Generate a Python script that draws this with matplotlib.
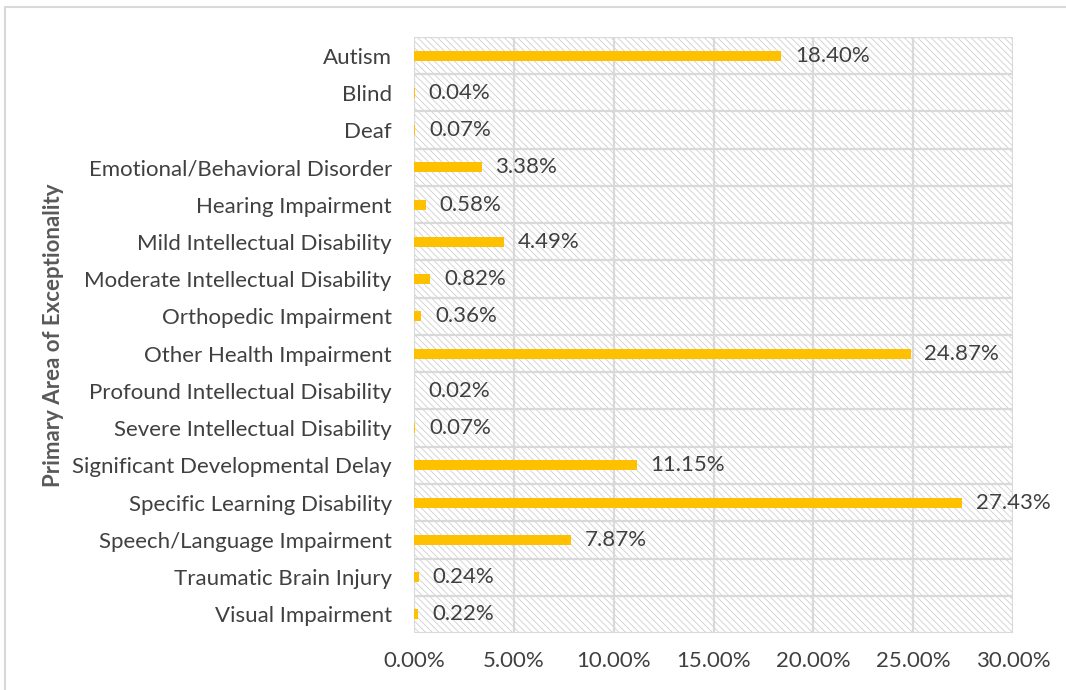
import numpy as np
import matplotlib.pyplot as plt
from matplotlib.patches import Rectangle
from matplotlib.ticker import FuncFormatter, MultipleLocator

categories = [
    'Autism', 'Blind', 'Deaf', 'Emotional/Behavioral Disorder',
    'Hearing Impairment', 'Mild Intellectual Disability',
    'Moderate Intellectual Disability', 'Orthopedic Impairment',
    'Other Health Impairment', 'Profound Intellectual Disability',
    'Severe Intellectual Disability', 'Significant Developmental Delay',
    'Specific Learning Disability', 'Speech/Language Impairment',
    'Traumatic Brain Injury', 'Visual Impairment',
]
percents = [18.40, 0.04, 0.07, 3.38, 0.58, 4.49, 0.82, 0.36,
            24.87, 0.02, 0.07, 11.15, 27.43, 7.87, 0.24, 0.22]
x_ticks = [0, 5, 10, 15, 20, 25, 30]

plt.rcParams['font.family'] = ['Lato', 'DejaVu Sans']
plt.rcParams['hatch.linewidth'] = 0.6
plt.rcParams['hatch.color'] = '#d0d0d0'

fig = plt.figure(figsize=(10.66, 6.9), dpi=100)
ax = fig.add_axes([0.3884, 0.0826, 0.5619, 0.8638])

# chart border
fig.patches.append(Rectangle((5 / 1066, -0.1), 1.2, 683 / 690 + 0.1,
                             transform=fig.transFigure, fill=False,
                             edgecolor='#d9d9d9', linewidth=1.5))

ax.patch.set_facecolor('white')
ax.patch.set_hatch('\\' * 5)
ax.patch.set_edgecolor('#d0d0d0')

y = np.arange(len(categories))
ax.barh(y, percents, height=0.27, color='#FFC000', zorder=3)
for yi, v in zip(y, percents):
    ax.annotate(f'{v:.2f}%', (v, yi), xytext=(10, 0), textcoords='offset points',
                va='center', ha='left', fontsize=16, color='#404040', zorder=4)

ax.set_ylim(len(categories) - 0.5, -0.5)
ax.set_xlim(0, 30)
ax.set_xticks(x_ticks)
ax.xaxis.set_major_formatter(FuncFormatter(lambda v, p: f'{v:.2f}%'))
ax.set_yticks(y)
ax.set_yticklabels(categories)
ax.yaxis.set_minor_locator(MultipleLocator(1, offset=0.5))

ax.grid(axis='x', which='major', color='#d9d9d9', linewidth=1.6, zorder=1)
ax.grid(axis='y', which='minor', color='#d9d9d9', linewidth=1.6, zorder=1)
ax.set_axisbelow(True)
for s in ax.spines.values():
    s.set_visible(False)
ax.tick_params(axis='both', which='both', length=0, labelsize=16, colors='#404040')
ax.tick_params(axis='y', pad=16)
ax.tick_params(axis='x', pad=13)

ax.set_ylabel('Primary Area of Exceptionality', fontsize=16, fontweight='bold',
              color='#595959')
ax.yaxis.set_label_coords(-0.585, 0.5)

fig.savefig('out.png', dpi=100)
